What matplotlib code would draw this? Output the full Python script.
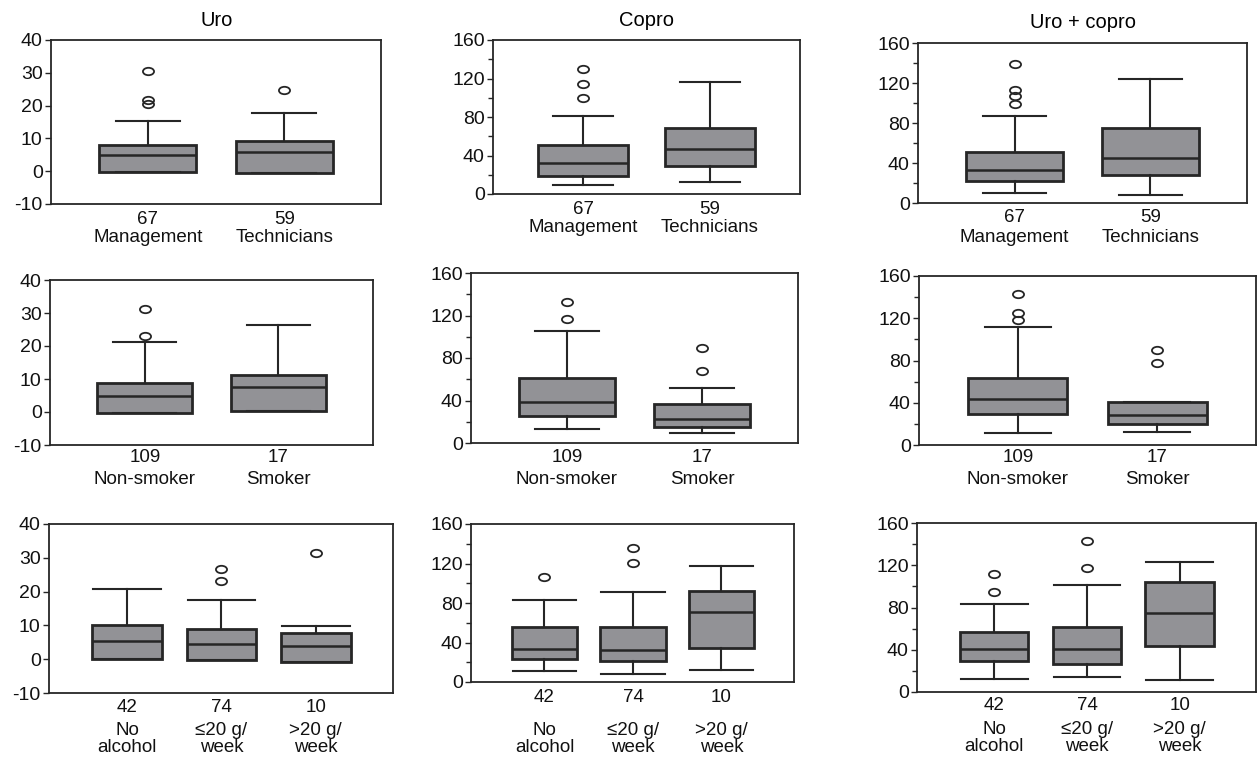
import matplotlib.pyplot as plt
import matplotlib.path as mpath
from matplotlib.transforms import blended_transform_factory
from matplotlib.ticker import MultipleLocator

plt.rcParams['font.family'] = ['Liberation Sans', 'DejaVu Sans']
plt.rcParams['axes.unicode_minus'] = False

# group labels
job_counts = ['67', '59']
job_names = ['Management', 'Technicians']
smoke_counts = ['109', '17']
smoke_names = ['Non-smoker', 'Smoker']
alc_counts = ['42', '74', '10']
alc_names = ['No\nalcohol', '\u226420 g/\nweek', '>20 g/\nweek']

# box stats per group: [q1, median, q3, whisker low, whisker high]
uro_job = [[-0.1, 4.8, 7.9, -0.1, 15.2], [-0.5, 5.8, 9.1, -0.5, 17.8]]
uro_job_out = [[20.4, 21.6, 30.4], [24.9]]
copro_job = [[19.0, 32.1, 51.1, 9.0, 81.2], [29.4, 46.3, 68.4, 12.8, 116.1]]
copro_job_out = [[100.2, 114.7, 130.0], []]
sum_job = [[22.3, 33.0, 51.3, 9.7, 87.3], [28.3, 44.7, 75.0, 8.0, 124.3]]
sum_job_out = [[99.3, 107.0, 113.3, 138.7], []]

uro_smoke = [[-0.2, 4.9, 8.9, -0.2, 21.3], [0.3, 7.5, 11.3, 0.3, 26.4]]
uro_smoke_out = [[22.9, 31.3], []]
copro_smoke = [[25.1, 38.3, 61.5, 13.5, 105.4], [14.7, 22.9, 36.7, 9.1, 51.8]]
copro_smoke_out = [[117.0, 132.4], [67.5, 89.7]]
sum_smoke = [[29.0, 43.5, 63.4, 11.7, 112.0], [20.2, 28.1, 40.7, 12.0, 40.7]]
sum_smoke_out = [[118.3, 125.3, 142.6], [77.4, 90.0]]

uro_alc = [[0.0, 5.5, 10.0, 0.0, 20.9], [-0.1, 4.4, 8.8, -0.1, 17.5],
           [-0.9, 3.9, 7.8, -0.9, 9.9]]
uro_alc_out = [[], [23.0, 26.6], [31.4]]
copro_alc = [[23.1, 33.7, 56.1, 11.4, 83.3], [21.3, 32.7, 56.1, 7.9, 90.8],
             [34.4, 71.2, 91.9, 12.0, 117.7]]
copro_alc_out = [[106.3], [120.4, 135.9], []]
sum_alc = [[28.9, 41.0, 56.6, 12.4, 83.0], [26.1, 41.0, 61.4, 14.3, 101.1],
           [43.6, 74.4, 103.7, 11.1, 123.1]]
sum_alc_out = [[94.5, 111.6], [117.7, 142.8], []]

W, H = 1257, 761
fig = plt.figure(figsize=(W / 100, H / 100), dpi=100)

dark = '#262626'
fill = '#929296'
ell = mpath.Path(mpath.Path.unit_circle().vertices * [1.5, 1.0],
                 mpath.Path.unit_circle().codes)

# (stats, outliers, counts, names, kind, (left, top, right, bottom) px, count y px, name y px)
panels = [
    (uro_job, uro_job_out, job_counts, job_names, 'uro', (51, 40, 381, 204), 219, 238),
    (copro_job, copro_job_out, job_counts, job_names, 'copro', (493, 40, 800, 194), 209, 228),
    (sum_job, sum_job_out, job_counts, job_names, 'copro', (918, 43, 1247, 203), 218, 237),
    (uro_smoke, uro_smoke_out, smoke_counts, smoke_names, 'uro', (50, 280, 373, 445), 458, 480),
    (copro_smoke, copro_smoke_out, smoke_counts, smoke_names, 'copro', (471, 273, 798, 443), 458, 480),
    (sum_smoke, sum_smoke_out, smoke_counts, smoke_names, 'copro', (919, 276, 1256, 445), 458, 479),
    (uro_alc, uro_alc_out, alc_counts, alc_names, 'uro', (49, 524, 393, 693), 707, 739),
    (copro_alc, copro_alc_out, alc_counts, alc_names, 'copro', (471, 524, 794, 682), 697, 739),
    (sum_alc, sum_alc_out, alc_counts, alc_names, 'copro', (917, 523, 1256, 692), 705, 738),
]

for stats, outs, counts, names, kind, (l, t, r, b), cy, ny in panels:
    ax = fig.add_axes([l / W, 1 - b / H, (r - l) / W, (b - t) / H])
    n = len(stats)
    boxes = []
    for (q1, med, q3, lo, hi), fl in zip(stats, outs):
        boxes.append({'q1': q1, 'med': med, 'q3': q3, 'whislo': lo,
                      'whishi': hi, 'fliers': fl})
    pos = list(range(1, n + 1))
    bw = 0.71 if n == 2 else 0.74
    cw = 0.47 if n == 2 else 0.72
    ax.bxp(boxes, positions=pos, widths=bw, capwidths=[cw] * n,
           patch_artist=True, showfliers=True,
           boxprops=dict(facecolor=fill, edgecolor=dark, linewidth=2),
           medianprops=dict(color=dark, linewidth=1.8),
           whiskerprops=dict(color=dark, linewidth=1.5),
           capprops=dict(color=dark, linewidth=1.5),
           flierprops=dict(marker=ell, markersize=8, markerfacecolor='none',
                           markeredgecolor=dark, markeredgewidth=1.3))
    if n == 2:
        ax.set_xlim(0.29, 2.71)
    else:
        ax.set_xlim(0.17, 3.82)
    if kind == 'uro':
        ax.set_ylim(-10, 40)
        ax.set_yticks([-10, 0, 10, 20, 30, 40])
    else:
        ax.set_ylim(0, 160)
        ax.set_yticks([0, 40, 80, 120, 160])
        ax.yaxis.set_minor_locator(MultipleLocator(20))
        ax.tick_params(axis='y', which='minor', length=3.5, width=1, color=dark)
    ax.set_xticks([])
    ax.tick_params(axis='y', which='major', length=4, width=1, color=dark,
                   labelsize=14, pad=2, labelcolor='#111111')
    for s in ax.spines.values():
        s.set_color(dark)
        s.set_linewidth(1.3)
    tr = blended_transform_factory(ax.transData, fig.transFigure)
    for p, c, nm in zip(pos, counts, names):
        ax.text(p, 1 - cy / H, c, transform=tr, ha='center', va='center',
                fontsize=13.5, color='#111111')
        ax.text(p, 1 - ny / H, nm, transform=tr, ha='center', va='center',
                fontsize=13.5, color='#111111', linespacing=1.0)

fig.text(217 / W, 1 - 21 / H, 'Uro', ha='center', va='center', fontsize=14.5)
fig.text(647 / W, 1 - 20 / H, 'Copro', ha='center', va='center', fontsize=14.5)
fig.text(1083 / W, 1 - 22 / H, 'Uro + copro', ha='center', va='center', fontsize=14.5)

fig.savefig('out.png', dpi=100)
